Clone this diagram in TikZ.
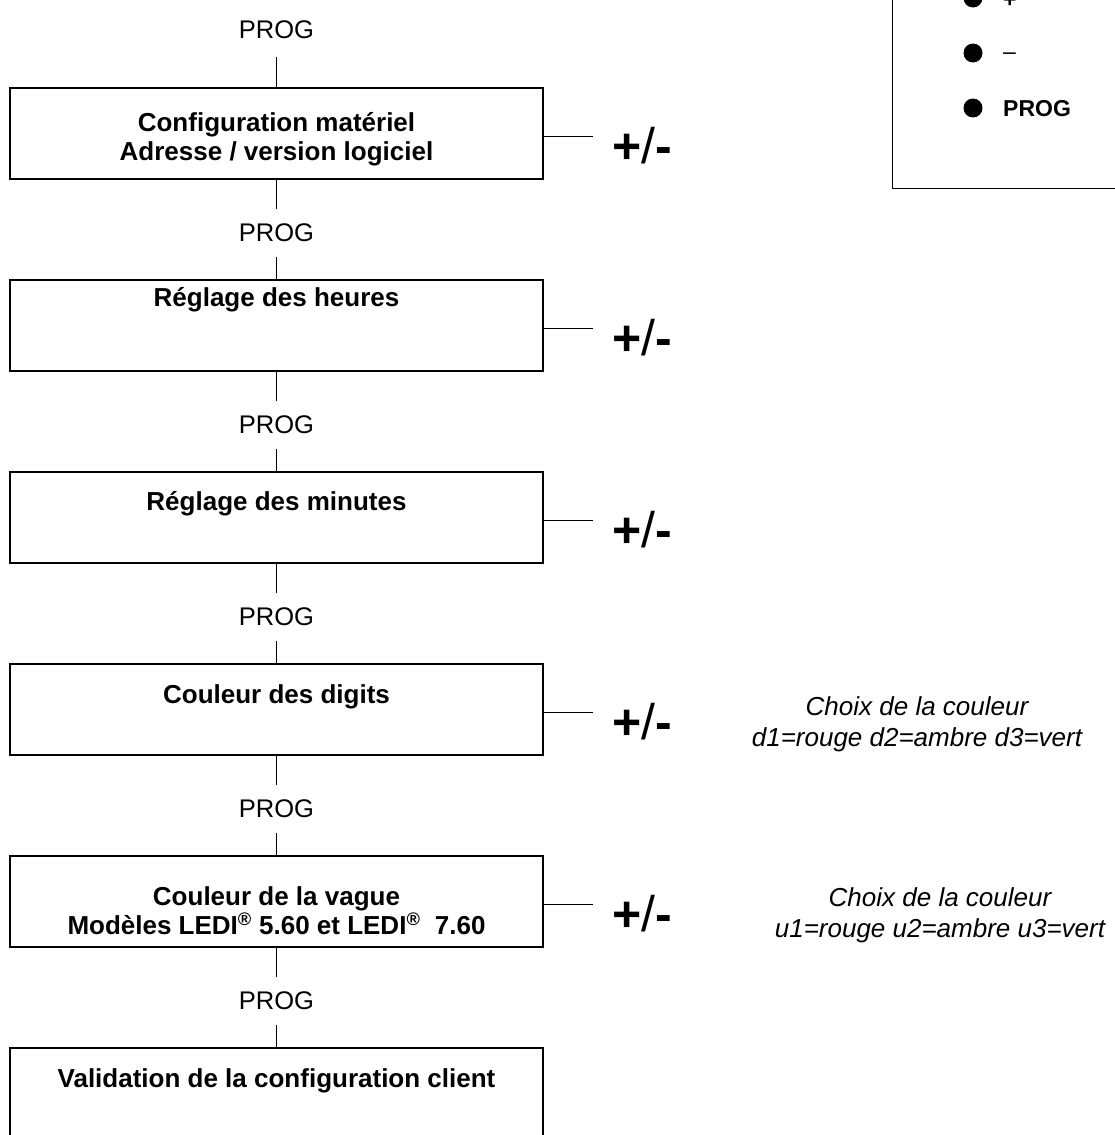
\documentclass[tikz,border=0pt]{standalone}
\usepackage{fontspec}
\setmainfont{Liberation Sans}
\usetikzlibrary{calc}
\begin{document}
\begin{tikzpicture}[x=1pt,y=-1pt,
  box/.style={draw, line width=1.3pt, minimum width=533pt, minimum height=91pt, inner sep=0pt},
  ttl/.style={font=\fontsize{26}{29}\selectfont\bfseries, align=center, inner sep=0pt},
  prog/.style={font=\fontsize{25.5}{28}\selectfont, inner sep=0pt, minimum height=48pt},
  pm/.style={font=\fontsize{50}{52}\selectfont, inner sep=0pt},
  note/.style={font=\fontsize{26}{31}\selectfont\itshape, align=center, inner sep=0pt},
  conn/.style={line width=1pt},
  leg/.style={font=\fontsize{23}{26}\selectfont\bfseries, anchor=base west, inner sep=0pt},
  dot/.style={circle, fill=black, minimum size=19pt, inner sep=0pt}]
\fill[white] (0,0) rectangle (1115,1135);
\clip (0,0) rectangle (1115,1135);

% legend box (cut by the frame)
\node[draw, line width=1pt, minimum width=250pt, minimum height=220pt, anchor=north west, inner sep=0pt] (lg) at (892,-32) {};
\node[dot] (d1) at (973,-2) {};
\node[dot] (d2) at (973,53) {};
\node[dot] (d3) at (973,108) {};
\node[leg] (l1) at (1003,7) {+};
\node[leg] (l2) at (1003,59) {\mdseries –};
\node[leg] (l3) at (1003,116) {PROG};

% chain
\node[prog] (p0) at (276.5,30) {PROG};
\node[box] (b1) at (276.5,133.5) {};
\node[ttl] (t1) at (276.5,139) {Configuration matériel\\Adresse / version logiciel};
\node[prog] (p1) at (276.5,233) {PROG};
\node[box] (b2) at (276.5,325.5) {};
\node[ttl] (t2) at (276.5,300) {Réglage des heures};
\node[prog] (p2) at (276.5,425) {PROG};
\node[box] (b3) at (276.5,517.5) {};
\node[ttl] (t3) at (276.5,504) {Réglage des minutes};
\node[prog] (p3) at (276.5,617) {PROG};
\node[box] (b4) at (276.5,709.5) {};
\node[ttl] (t4) at (276.5,697) {Couleur des digits};
\node[prog] (p4) at (276.5,809) {PROG};
\node[box] (b5) at (276.5,901.5) {};
\node[ttl] (t5) at (276.5,911) {Couleur de la vague\\Modèles LEDI\textsuperscript{®} 5.60 et LEDI\textsuperscript{®}\ \ 7.60};
\node[prog] (p5) at (276.5,1001) {PROG};
\node[box, minimum height=110pt] (b6) at (276.5,1103) {};
\node[ttl] (t6) at (276.5,1081) {Validation de la configuration client};

\draw[conn] ([yshift=-3pt]p0.south) -- (b1.north);
\foreach \a/\p/\b in {b1/p1/b2, b2/p2/b3, b3/p3/b4, b4/p4/b5, b5/p5/b6}{
  \draw[conn] (\a.south) -- (\p.north);
  \draw[conn] (\p.south) -- (\b.north);
}

% +/- branches
\foreach \b/\y in {b1/133.5, b2/325.5, b3/517.5, b4/709.5, b5/901.5}{
  \coordinate (c\b) at ($(\b.east)+(49,2.5)$);
  \draw[conn] ([yshift=-2.5pt]\b.east) -- (c\b);
  \node[pm] (m\b) at (642,\y+12) {\textbf{+}/\textbf{-}};
}

\node[note] (n4) at (917,724) {Choix de la couleur\\d1=rouge d2=ambre d3=vert};
\node[note] (n5) at (940,915) {Choix de la couleur\\u1=rouge u2=ambre u3=vert};
\end{tikzpicture}
\end{document}
